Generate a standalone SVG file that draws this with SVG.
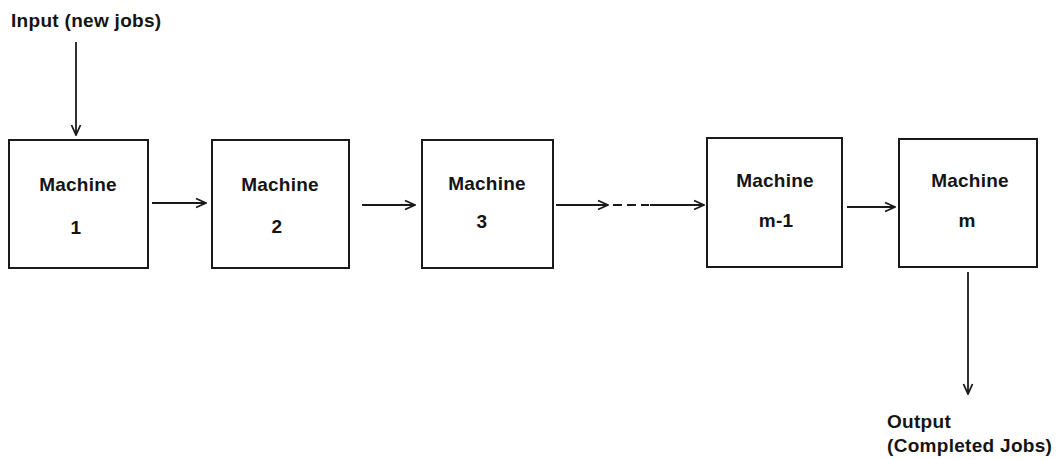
<svg xmlns="http://www.w3.org/2000/svg" width="1059" height="459" viewBox="0 0 1059 459">
  <style>
    .box { fill: #ffffff; stroke: #1a1a1a; stroke-width: 2; }
    .lbl { font-family: "Liberation Sans", Arial, sans-serif; font-weight: bold; font-size: 19px; letter-spacing: 0.2px; fill: #141414; text-anchor: middle; }
    .txt { font-family: "Liberation Sans", Arial, sans-serif; font-weight: bold; font-size: 19px; letter-spacing: 0.3px; fill: #141414; }
    .wire { fill: none; stroke: #1a1a1a; stroke-width: 1.8; }
    .dash { fill: none; stroke: #1a1a1a; stroke-width: 1.8; stroke-dasharray: 9 5; }
  </style>
  <defs>
    <marker id="head" viewBox="0 0 12 12" refX="11" refY="6" markerWidth="12" markerHeight="12" markerUnits="userSpaceOnUse" orient="auto">
      <path d="M1,1.5 L11,6 L1,10.5" fill="none" stroke="#1a1a1a" stroke-width="1.8"/>
    </marker>
  </defs>
  <rect width="1059" height="459" fill="#ffffff"/>

  <text class="txt" x="11" y="27">Input (new jobs)</text>

  <g id="machine-1">
    <rect class="box" x="9" y="140" width="139" height="128"/>
    <text class="lbl" x="78" y="191">Machine</text>
    <text class="lbl" x="76" y="234">1</text>
  </g>
  <g id="machine-2">
    <rect class="box" x="212" y="140" width="137" height="128"/>
    <text class="lbl" x="280" y="191">Machine</text>
    <text class="lbl" x="277" y="233">2</text>
  </g>
  <g id="machine-3">
    <rect class="box" x="422" y="140" width="131" height="128"/>
    <text class="lbl" x="487" y="190">Machine</text>
    <text class="lbl" x="482" y="228">3</text>
  </g>
  <g id="machine-m-1">
    <rect class="box" x="707" y="138" width="135" height="129"/>
    <text class="lbl" x="775" y="187">Machine</text>
    <text class="lbl" x="776" y="227">m-1</text>
  </g>
  <g id="machine-m">
    <rect class="box" x="899" y="139" width="138" height="128"/>
    <text class="lbl" x="970" y="187">Machine</text>
    <text class="lbl" x="967" y="227">m</text>
  </g>

  <g id="connectors">
    <line class="wire" x1="76" y1="42" x2="76" y2="135" marker-end="url(#head)"/>
    <line class="wire" x1="152" y1="203" x2="206" y2="203" marker-end="url(#head)"/>
    <line class="wire" x1="362" y1="205" x2="415" y2="205" marker-end="url(#head)"/>
    <line class="wire" x1="556" y1="205" x2="608" y2="205" marker-end="url(#head)"/>
    <line class="dash" x1="613" y1="205" x2="649" y2="205"/>
    <line class="wire" x1="650" y1="205" x2="704" y2="205" marker-end="url(#head)"/>
    <line class="wire" x1="847" y1="207" x2="895" y2="207" marker-end="url(#head)"/>
    <line class="wire" x1="968" y1="272" x2="968" y2="394" marker-end="url(#head)"/>
  </g>

  <text class="txt" x="887" y="428">Output</text>
  <text class="txt" x="887" y="452">(Completed Jobs)</text>
</svg>
